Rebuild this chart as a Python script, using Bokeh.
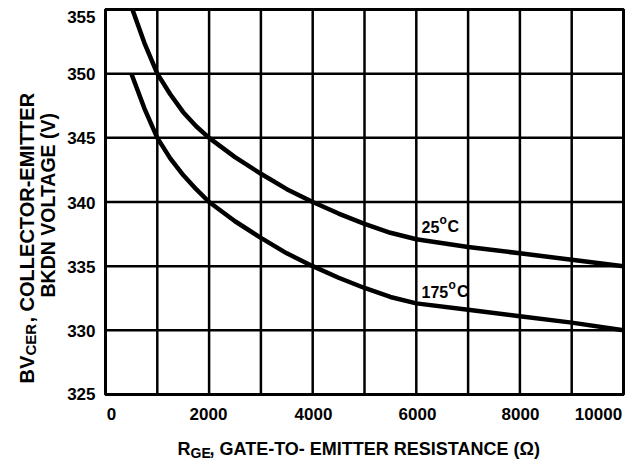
import math
from bokeh.plotting import figure
from bokeh.models import Range1d, Label
from bokeh.embed import file_html
from bokeh.resources import INLINE

# ---- data ----
r_ohm = [520, 750, 1000, 1250, 1500, 1750, 2000, 2500, 3000, 3500, 4000, 4500, 5000, 5500, 6000, 7000, 8000, 9000, 10000]
bv_25c = [355.0, 352.4, 350.0, 348.4, 347.0, 345.9, 345.0, 343.5, 342.2, 341.0, 340.0, 339.1, 338.3, 337.6, 337.1, 336.5, 336.0, 335.5, 335.0]
r_ohm_175 = [500, 750, 1000, 1250, 1500, 1750, 2000, 2500, 3000, 3500, 4000, 4500, 5000, 5500, 6000, 7000, 8000, 9000, 10000]
bv_175c = [350.0, 347.3, 345.0, 343.4, 342.1, 341.0, 340.0, 338.5, 337.2, 336.0, 335.0, 334.1, 333.3, 332.6, 332.1, 331.6, 331.1, 330.6, 330.0]

x_grid = [0, 1000, 2000, 3000, 4000, 5000, 6000, 7000, 8000, 9000, 10000]
y_grid = [325, 330, 335, 340, 345, 350, 355]
x_tick_labels = ["0", "2000", "4000", "6000", "8000", "10000"]
y_tick_vals = [325, 330, 335, 340, 345, 350, 355]
y_tick_labels = ["325", "330", "335", "340", "345", "350", "355"]

FONT = "Liberation Sans"
W, H = 630, 462

# where the chart's box sits on the canvas, in pixels
FX0, FX1, FY0, FY1 = 105, 623, 9, 394
XMIN, XMAX, YMIN, YMAX = 0, 10000, 325, 355
FIX = 5  # renderer places alphabetic baselines this much lower


def dx(px):
    return XMIN + (px - FX0) / (FX1 - FX0) * (XMAX - XMIN)


def dy(py):
    return YMIN + (FY1 - py) / (FY1 - FY0) * (YMAX - YMIN)


def py_of(v):
    return FY1 - (v - YMIN) / (YMAX - YMIN) * (FY1 - FY0)


p = figure(width=W, height=H,
           x_range=Range1d(dx(0), dx(W)), y_range=Range1d(dy(H), dy(0)),
           x_axis_location=None, y_axis_location=None,
           output_backend="svg", toolbar_location=None,
           min_border=0, min_border_left=0, min_border_right=0,
           min_border_top=0, min_border_bottom=0)
p.background_fill_color = "white"
p.border_fill_color = "white"
p.outline_line_color = None
p.xgrid.visible = False
p.ygrid.visible = False

# grid lines (vertical and horizontal) and the chart box
p.segment(x0=x_grid, x1=x_grid, y0=[YMIN] * len(x_grid), y1=[YMAX] * len(x_grid),
          line_color="black", line_width=2.5)
p.segment(x0=[XMIN] * len(y_grid), x1=[XMAX] * len(y_grid), y0=y_grid, y1=y_grid,
          line_color="black", line_width=2.5)
p.quad(left=[XMIN], right=[XMAX], bottom=[YMIN], top=[YMAX],
       fill_color=None, line_color="black", line_width=3)

p.line(r_ohm, bv_25c, line_color="black", line_width=4.5, line_join="round")
p.line(r_ohm_175, bv_175c, line_color="black", line_width=4.5, line_join="round")


def lab(px, py, text, size, align="left", angle=0.0):
    if angle:
        px -= FIX
    else:
        py -= FIX
    p.add_layout(Label(x=dx(px), y=dy(py), text=text, text_font=FONT, text_font_style="bold",
                       text_font_size=f"{size}px", text_align=align,
                       text_baseline="alphabetic", text_color="black", angle=angle))


# x tick labels (pixel centres)
x_label_centres = [111, 208, 313, 417, 520, 598]
for cx, t in zip(x_label_centres, x_tick_labels):
    lab(cx, 418, t, 17, align="center")

# y tick labels
for v, t in zip(y_tick_vals, y_tick_labels):
    if v == YMAX:
        base = 21.0
    elif v == YMIN:
        base = 398.5
    else:
        base = py_of(v) + 5.5
    lab(95, base, t, 17, align="right")

# x axis title with subscript
lab(177, 453, "R", 18)
lab(190, 457, "GE", 14)
lab(209, 453, ", GATE-TO- EMITTER RESISTANCE (\u03a9)", 18)

# y axis title (two rotated lines)
ang = math.pi / 2
lab(31, 383, "BV", 20, angle=ang)
lab(34.5, 355, "CER", 15, angle=ang)
lab(31, 322, ", COLLECTOR-EMITTER", 20, angle=ang)
lab(52, 297, "BKDN VOLTAGE (V)", 19.5, angle=ang)

# curve labels
lab(421, 231, "25", 16)
lab(439, 224, "o", 12)
lab(447, 231, "C", 16)
lab(421, 296, "175", 16)
lab(448, 289, "o", 12)
lab(456.5, 296, "C", 16)

open("out.html", "w").write(file_html(p, INLINE))
